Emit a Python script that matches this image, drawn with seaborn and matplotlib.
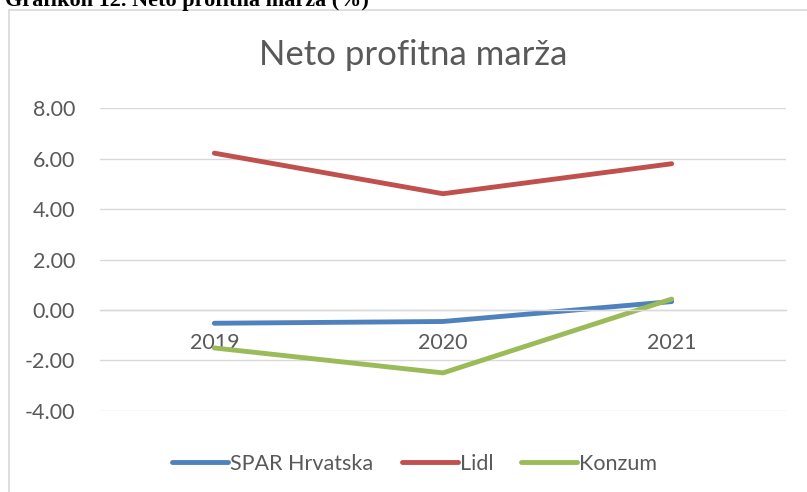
"""
Neto profitna marza - line chart (SPAR Hrvatska, Lidl, Konzum)
"""

import matplotlib
matplotlib.use("Agg")
import matplotlib.pyplot as plt
from matplotlib.patches import Rectangle
import pandas as pd
import seaborn as sns

# Data
years = ["2019", "2020", "2021"]
spar = [-0.53, -0.46, 0.33]
lidl = [6.22, 4.61, 5.80]
konzum = [-1.51, -2.50, 0.43]

series_names = ["SPAR Hrvatska", "Lidl", "Konzum"]
colors = ["#4F81BD", "#C0504D", "#9BBB59"]
y_ticks = [-4, -2, 0, 2, 4, 6, 8]

df = pd.DataFrame({
    "year": years * 3,
    "value": spar + lidl + konzum,
    "company": [n for n in series_names for _ in years],
})

sns.set_theme(style="white")
plt.rcParams["font.family"] = ["Lato", "DejaVu Sans"]

text_gray = "#595959"
grid_gray = "#d9d9d9"

fig = plt.figure(figsize=(8.07, 4.92), dpi=100)
ax = fig.add_axes([100 / 807, 1 - 410.7 / 492, 686 / 807, 302.4 / 492])

sns.lineplot(
    data=df, x="year", y="value", hue="company",
    palette=colors, hue_order=series_names,
    linewidth=3.5, sort=False, ax=ax, legend=False,
)
for line in ax.lines:
    line.set_solid_capstyle("round")
    line.set_solid_joinstyle("round")

ax.set_xlim(-0.5, len(years) - 0.5)
ax.set_ylim(-4, 8)
ax.set_yticks(y_ticks)
ax.set_yticklabels([f"{v:.2f}" for v in y_ticks])
ax.set_xlabel("")
ax.set_ylabel("")

ax.yaxis.grid(True, color=grid_gray, linewidth=1.0)
ax.set_axisbelow(True)
for side in ["top", "right", "left"]:
    ax.spines[side].set_visible(False)
ax.spines["bottom"].set_position(("data", 0))
ax.spines["bottom"].set_color(grid_gray)
ax.spines["bottom"].set_linewidth(1.0)

ax.tick_params(axis="y", length=0, pad=18, labelsize=15.5, labelcolor=text_gray)
ax.tick_params(axis="x", length=0, pad=16.5, labelsize=15.5, labelcolor=text_gray)

# Chart title
fig.text(0.512, 1 - 55 / 492, "Neto profitna marža", ha="center", va="center",
         fontsize=25, color=text_gray)

# Cut-off document caption above the chart
fig.text(5 / 807, 1 - 6 / 492, "Grafikon 12. Neto profitna marža (%)",
         ha="left", va="baseline", fontsize=16, fontweight="bold",
         family=["Liberation Serif", "DejaVu Serif"], color="black")

# Chart area border
fig.patches.append(Rectangle((9 / 807, -0.05), 1.2, 1 - 9.5 / 492 + 0.05,
                             transform=fig.transFigure, fill=False,
                             edgecolor=grid_gray, linewidth=1.2))

handles = [plt.Line2D([], [], color=c, linewidth=3.5, solid_capstyle="round")
           for c in colors]
fig.legend(handles, series_names, loc="center", ncol=3,
           bbox_to_anchor=(0.514, 1 - 464 / 492), frameon=False,
           fontsize=15.5, labelcolor=text_gray, handlelength=2.6,
           handletextpad=0.1, columnspacing=1.3)

fig.savefig("out.png", dpi=100)
